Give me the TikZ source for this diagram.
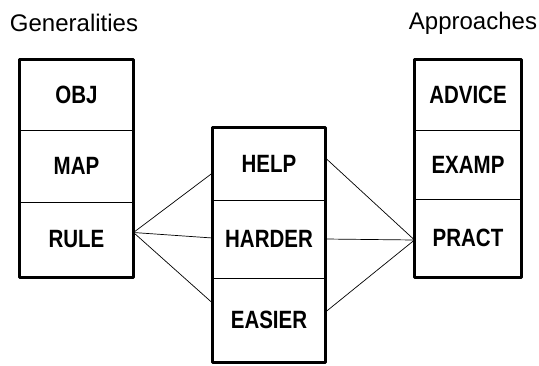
\documentclass[tikz,border=0pt]{standalone}
\usepackage{fontspec}
\setmainfont[FakeStretch=0.82]{Liberation Sans}
\newfontfamily\titlefont{Liberation Sans}
\begin{document}
\begin{tikzpicture}[x=1pt,y=-1pt,
  cell/.style={draw,line width=1pt,inner sep=0pt,font=\fontsize{25}{27}\selectfont\bfseries},
  box/.style={line width=2.4pt,line join=round},
  title/.style={inner sep=0pt,font=\titlefont\fontsize{24}{26}\selectfont},
  link/.style={line width=0.7pt}]
\useasboundingbox (0,0) rectangle (539,365);
% titles
\node[title] (gen) at (74,23) {Generalities};
\node[title] (app) at (473,23) {Approaches};
% left column
\node[cell,minimum width=113pt,minimum height=70pt] (obj) at (76.5,95) {OBJ};
\node[cell,minimum width=113pt,minimum height=72pt] (map) at (76.5,166) {MAP};
\node[cell,minimum width=113pt,minimum height=75pt] (rule) at (76.5,239.5) {RULE};
\draw[box] (obj.north west) rectangle (rule.south east);
% middle column
\node[cell,minimum width=112pt,minimum height=72pt] (help) at (269,164) {HELP};
\node[cell,minimum width=112pt,minimum height=78pt] (harder) at (269,239) {HARDER};
\node[cell,minimum width=112pt,minimum height=84pt] (easier) at (269,320) {EASIER};
\draw[box] (help.north west) rectangle (easier.south east);
% right column
\node[cell,minimum width=106pt,minimum height=70pt] (advice) at (468,95) {ADVICE};
\node[cell,minimum width=106pt,minimum height=69pt] (examp) at (468,164.5) {EXAMP};
\node[cell,minimum width=106pt,minimum height=78pt] (pract) at (468,238) {PRACT};
\draw[box] (advice.north west) rectangle (pract.south east);
% connectors
\draw[link] ([yshift=7pt]rule.east) -- ([yshift=-9pt]help.west);
\draw[link] ([yshift=7pt]rule.east) -- ([yshift=1pt]harder.west);
\draw[link] ([yshift=7pt]rule.east) -- ([yshift=17pt]easier.west);
\draw[link] ([yshift=-2pt]pract.west) -- ([yshift=6pt]help.east);
\draw[link] ([yshift=-2pt]pract.west) -- (harder.east);
\draw[link] ([yshift=-2pt]pract.west) -- ([yshift=8pt]easier.east);
\end{tikzpicture}
\end{document}
